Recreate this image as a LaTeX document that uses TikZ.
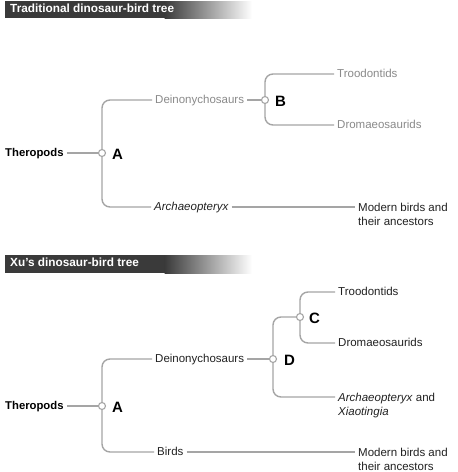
\documentclass[tikz,border=0pt]{standalone}
\usepackage{fontspec}
\setmainfont{Liberation Sans}
\definecolor{linegray}{HTML}{A5A5A5}
\definecolor{txtgray}{HTML}{8A8A8A}
\definecolor{txtdark}{HTML}{222222}
\definecolor{bardark}{HTML}{3A3A3A}
\tikzset{
  lbl/.style={anchor=west, inner xsep=3pt, inner ysep=0pt, text height=9pt, text depth=1.5pt,
    font=\fontsize{11.5}{14}\selectfont, text=txtdark},
  lbltwo/.style={anchor=north west, inner xsep=3pt, inner ysep=0pt, align=left,
    font=\fontsize{11.5}{14}\selectfont, text=txtdark},
  gry/.style={text=txtgray},
  bld/.style={font=\bfseries\fontsize{11.3}{14}\selectfont},
  ita/.style={font=\itshape\fontsize{11.5}{14}\selectfont},
  dot/.style={circle, draw=linegray, fill=white, line width=1.1pt, minimum size=7pt, inner sep=0pt},
  conn/.style={draw=linegray, line width=1.4pt},
  tree/.style={conn, rounded corners=8pt},
  clade/.style={anchor=west, inner sep=0pt, text height=10pt, text depth=0pt,
    font=\bfseries\fontsize{15}{16}\selectfont, text=black},
  ttl/.style={anchor=west, inner sep=0pt, text height=8.5pt, text depth=2pt, text=white,
    font=\bfseries\fontsize{11.8}{14}\selectfont},
}
\begin{document}
\begin{tikzpicture}[x=1pt, y=-1pt]
\useasboundingbox (0,0) rectangle (458,472);
\fill[white] (0,0) rectangle (458,472);

% ---------- top title bar ----------
\fill[bardark] (5,1) rectangle (165,18);
\shade[left color=bardark, right color=white] (164.5,1) rectangle (252,18);
\node[ttl] (t1) at (10,9.5) {Traditional dinosaur-bird tree};

% ---------- top tree ----------
\node[lbl, bld, text=black] (th1) at (2,153) {Theropods};
\node[dot] (a1) at (102,153) {};
\node[clade] (la1) at (112,154) {A};
\node[lbl, gry] (dn1) at (152,100) {Deinonychosaurs};
\node[lbl, ita] (ar1) at (151,207) {Archaeopteryx};
\node[lbltwo] (mb1) at (355,202.5) {Modern birds and\\their ancestors};
\node[dot] (b1) at (265,100) {};
\node[clade] (lb1) at (275,101) {B};
\node[lbl, gry] (tr1) at (334,74) {Troodontids};
\node[lbl, gry] (dr1) at (334,125) {Dromaeosaurids};

\draw[conn] (th1.east) -- (a1);
\draw[tree] (a1) |- (dn1.west);
\draw[tree] (a1) |- (ar1.west);
\draw[conn] (ar1.east) -- (mb1.west |- ar1.east);
\draw[conn] (dn1.east) -- (b1);
\draw[tree] (b1) |- (tr1.west);
\draw[tree] (b1) |- (dr1.west);

% ---------- bottom title bar ----------
\fill[bardark] (5,255) rectangle (165,273);
\shade[left color=bardark, right color=white] (164.5,255) rectangle (252,273);
\node[ttl] (t2) at (10,263.5) {Xu's dinosaur-bird tree};

% ---------- bottom tree ----------
\node[lbl, bld, text=black] (th2) at (2,406) {Theropods};
\node[dot] (a2) at (102,406) {};
\node[clade] (la2) at (112,407) {A};
\node[lbl] (dn2) at (152,359) {Deinonychosaurs};
\node[lbl] (bi2) at (154,452) {Birds};
\node[lbltwo] (mb2) at (355,447.5) {Modern birds and\\their ancestors};
\node[dot] (d2) at (273,359) {};
\node[clade] (ld2) at (284,360) {D};
\node[dot] (c2) at (300,317) {};
\node[clade] (lc2) at (309,318) {C};
\node[lbl] (tr2) at (335,292) {Troodontids};
\node[lbl] (dr2) at (335,343) {Dromaeosaurids};
\node[lbltwo] (ax2) at (335,392.5) {\textit{Archaeopteryx} and\\\textit{Xiaotingia}};

\draw[conn] (th2.east) -- (a2);
\draw[tree] (a2) |- (dn2.west);
\draw[tree] (a2) |- (bi2.west);
\draw[conn] (bi2.east) -- (mb2.west |- bi2.east);
\draw[conn] (dn2.east) -- (d2);
\draw[tree] (d2) |- (c2.west);
\draw[tree] (d2) |- (ax2.west |- 0,397);
\draw[tree] (c2) |- (tr2.west);
\draw[tree] (c2) |- (dr2.west);
\end{tikzpicture}
\end{document}
